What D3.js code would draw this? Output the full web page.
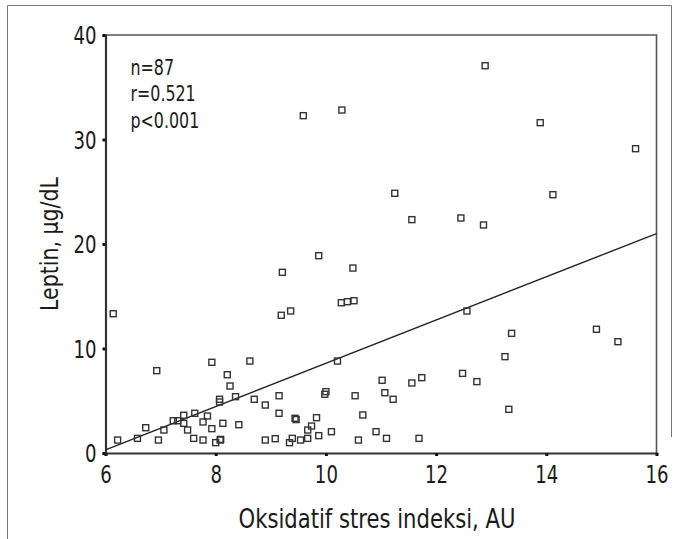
<!DOCTYPE html>
<html>
<head>
<meta charset="utf-8">
<script src="https://cdn.jsdelivr.net/npm/d3@7"></script>
<style>
  html, body { margin: 0; padding: 0; background: #fff; }
  svg { display: block; }
  text { font-family: "DejaVu Sans Condensed", "Liberation Sans Narrow", sans-serif; fill: #1a1a1a; }
</style>
</head>
<body>
<svg id="chart" width="679" height="539"></svg>
<script>
// oxidative stress index (AU) vs leptin (ug/dL)
const stressIndex = [
  6.14, 6.93, 6.22, 6.58, 6.73, 6.96, 7.06, 7.23, 7.31, 7.42, 7.42, 7.49, 7.62, 7.60, 7.77,
  7.85, 7.77, 7.93, 7.93, 8.00, 8.08, 8.07, 8.07, 8.21, 8.26, 8.36, 8.13, 8.42, 8.62, 8.70,
  8.90, 8.90, 9.08, 9.15, 9.15, 9.19, 9.36, 9.34, 9.39, 9.44, 9.46, 9.54, 9.67, 9.67, 9.74,
  9.83, 9.87, 9.98, 10.00, 10.10, 10.21, 10.28, 10.39, 10.51, 10.53, 10.59, 10.67, 10.91, 11.02, 11.07,
  11.10, 11.22, 11.56, 11.74, 11.69, 12.56, 12.48, 12.74, 13.25, 13.37, 13.32, 14.91, 15.30, 9.59, 10.29,
  9.21, 9.87, 10.49, 12.89, 13.89, 15.62, 11.25, 11.56, 12.45, 12.86, 14.12, 8.09
]
const leptin = [
  13.33, 7.88, 1.24, 1.40, 2.42, 1.24, 2.20, 3.09, 3.09, 3.61, 2.84, 2.20, 3.80, 1.40, 2.97,
  3.54, 1.24, 2.33, 8.68, 0.99, 1.24, 5.14, 4.88, 7.49, 6.41, 5.39, 2.84, 2.71, 8.80, 5.14,
  4.59, 1.24, 1.37, 5.48, 3.80, 13.18, 13.59, 0.99, 1.40, 3.32, 3.20, 1.24, 1.40, 2.20, 2.58,
  3.38, 1.66, 5.62, 5.87, 2.04, 8.80, 14.38, 14.48, 14.57, 5.48, 1.24, 3.64, 2.04, 6.96, 5.77,
  1.40, 5.14, 6.70, 7.21, 1.40, 13.59, 7.62, 6.83, 9.22, 11.45, 4.18, 11.84, 10.65, 32.28, 32.82,
  17.29, 18.88, 17.70, 37.06, 31.61, 29.12, 24.85, 22.33, 22.49, 21.82, 24.72, 1.30
]
const fit = { intercept: 0.3, slope: 2.07 }   // leptin = intercept + slope * (x - 6)
const xTicks = [6, 8, 10, 12, 14, 16]
const yTicks = [0, 10, 20, 30, 40]
const stats = ['n=87', 'r=0.521', 'p<0.001']

const narrow = 0.84 // the print uses a condensed face, squeeze DejaVu a bit

const svg = d3.select('#chart')
const margin = { top: 35, left: 105.5 }
const w = 551, h = 418

// outer figure frame (open at the lower right, as in the print)
svg.append('path')
  .attr('d', 'M7.5,539 V5.5 H671.5 V437')
  .attr('fill', 'none').attr('stroke', '#777').attr('stroke-width', 1)

const g = svg.append('g').attr('transform', `translate(${margin.left},${margin.top})`)
const x = d3.scaleLinear().domain([6, 16]).range([0, w])
const y = d3.scaleLinear().domain([0, 40]).range([h, 0])

// top and right frame
g.append('path')
  .attr('d', `M0,0 H${w} V${h}`)
  .attr('fill', 'none').attr('stroke', '#555').attr('stroke-width', 1.6)

const xAxis = g.append('g').attr('transform', `translate(0,${h})`)
  .call(d3.axisBottom(x).tickValues(xTicks).tickSize(3).tickPadding(4).tickFormat(d3.format('d')))
const yAxis = g.append('g')
  .call(d3.axisLeft(y).tickValues(yTicks).tickSize(3).tickPadding(6).tickFormat(d3.format('d')))

for (const ax of [xAxis, yAxis]) {
  ax.select('.domain').attr('stroke', '#333').attr('stroke-width', 2.2)
  ax.selectAll('.tick line').attr('stroke', '#111').attr('stroke-width', 3)
  ax.selectAll('.tick text').style('font-size', '24px').attr('fill', '#1a1a1a')
    .style('font-family', '"DejaVu Sans Condensed", "Liberation Sans Narrow", sans-serif')
}
xAxis.selectAll('.tick text').attr('dy', '0.95em').attr('transform', `scale(${narrow},1)`)
yAxis.selectAll('.tick text').attr('dy', '0.36em')
  .attr('x', -9 / narrow).attr('transform', `scale(${narrow},1)`)

// regression line
g.append('line')
  .attr('x1', x(6)).attr('y1', y(fit.intercept))
  .attr('x2', x(16)).attr('y2', y(fit.intercept + fit.slope * 10))
  .attr('stroke', '#222').attr('stroke-width', 1.4)

// points
const pts = stressIndex.map((v, i) => ({ x: v, y: leptin[i] }))
g.selectAll('rect.pt').data(pts).join('rect')
  .attr('class', 'pt')
  .attr('x', d => x(d.x) - 3).attr('y', d => y(d.y) - 3)
  .attr('width', 6).attr('height', 6)
  .attr('fill', 'none').attr('stroke', '#333').attr('stroke-width', 1.4)

// stats annotation
g.append('g').attr('transform', `translate(25,40) scale(${narrow},1)`)
  .selectAll('text').data(stats).join('text')
  .attr('x', 0).attr('y', (d, i) => i * 26.5)
  .style('font-size', '21px')
  .text(d => d)

// axis titles
svg.append('text').attr('x', 377).attr('y', 528)
  .attr('text-anchor', 'middle').style('font-size', '26px')
  .attr('textLength', 277).attr('lengthAdjust', 'spacingAndGlyphs')
  .text('Oksidatif stres indeksi, AU')
svg.append('text').attr('transform', `translate(58, ${margin.top + h / 2}) rotate(-90)`)
  .attr('text-anchor', 'middle').style('font-size', '25px')
  .attr('textLength', 134).attr('lengthAdjust', 'spacingAndGlyphs')
  .text('Leptin, μg/dL')
</script>
</body>
</html>
